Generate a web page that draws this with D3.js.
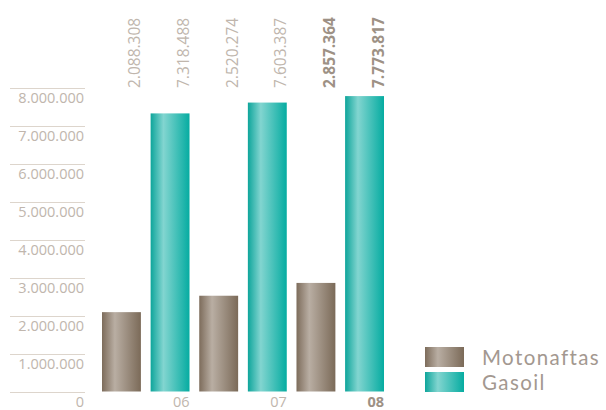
<!DOCTYPE html>
<html><head><meta charset="utf-8">
<script src="https://cdn.jsdelivr.net/npm/d3@7/dist/d3.min.js"></script>
<style>body{margin:0;background:#fff}svg{display:block}text{font-family:"Open Sans",sans-serif}</style>
</head><body>
<svg id="c" width="606" height="410"></svg>
<script>
const years = ["06", "07", "08"];
const seriesNames = ["Motonaftas", "Gasoil"];
const motonaftas = [2088308, 2520274, 2857364];
const gasoil = [7318488, 7603387, 7773817];
const tickValues = [0, 1000000, 2000000, 3000000, 4000000, 5000000, 6000000, 7000000, 8000000];

const svg = d3.select("#c");
const fmt = v => d3.format(",")(v).replace(/,/g, ".");

const y = d3.scaleLinear().domain([0, 8000000]).range([391.5, 87.5]);
const xBand = d3.scaleBand().domain(d3.range(6)).range([102, 384]).paddingInner(0.2).paddingOuter(0);

const defs = svg.append("defs");
function grad(id, stops) {
  const g = defs.append("linearGradient").attr("id", id).attr("x1", "0%").attr("x2", "100%").attr("y1", "0%").attr("y2", "0%");
  stops.forEach(s => g.append("stop").attr("offset", s[0]).attr("stop-color", s[1]));
}
grad("gBrown", [[0, "#7d6c5b"], [0.33, "#b9aea3"], [1, "#7b6a58"]]);
grad("gTeal", [[0, "#0ea59b"], [0.33, "#82d5d0"], [1, "#06aca1"]]);
const fills = ["url(#gBrown)", "url(#gTeal)"];

// gridlines and tick labels
const grid = svg.append("g");
grid.selectAll("line").data(tickValues).join("line")
  .attr("x1", 10).attr("x2", 85)
  .attr("y1", d => Math.round(y(d)) + 0.5).attr("y2", d => Math.round(y(d)) + 0.5)
  .attr("stroke", "#ddd5cc").attr("stroke-width", 1);
grid.selectAll("text").data(tickValues).join("text")
  .attr("x", 84).attr("y", d => y(d) + 15.5)
  .attr("text-anchor", "end").attr("font-size", 14.5).attr("fill", "#c0b6ad")
  .text(d => fmt(d));

// bars
const data = [];
years.forEach((yr, i) => {
  data.push({ yr, s: 0, v: motonaftas[i], idx: i * 2 });
  data.push({ yr, s: 1, v: gasoil[i], idx: i * 2 + 1 });
});
svg.append("g").selectAll("rect").data(data).join("rect")
  .attr("x", d => xBand(d.idx)).attr("width", xBand.bandwidth())
  .attr("y", d => y(d.v)).attr("height", d => y(0) - y(d.v))
  .attr("fill", d => fills[d.s]);

// value labels
svg.append("g").selectAll("text").data(data).join("text")
  .attr("transform", d => `translate(${xBand(d.idx) + xBand.bandwidth() - 0.5},88) rotate(-90)`)
  .attr("font-size", 15.5)
  .attr("font-weight", d => d.yr === "08" ? "bold" : "normal")
  .attr("fill", d => d.yr === "08" ? "#9d9185" : "#c0b6ad")
  .text(d => fmt(d.v));

// x labels
svg.append("g").selectAll("text").data(years).join("text")
  .attr("x", (d, i) => xBand(i * 2 + 1) + xBand.bandwidth())
  .attr("y", 407)
  .attr("text-anchor", "end").attr("font-size", 14.5)
  .attr("font-weight", d => d === "08" ? "bold" : "normal")
  .attr("fill", d => d === "08" ? "#9d9185" : "#c0b6ad")
  .text(d => d);

// legend
const lg = svg.append("g");
seriesNames.forEach((n, i) => {
  lg.append("rect").attr("x", 425).attr("y", 347 + i * 25).attr("width", 39).attr("height", 20).attr("fill", fills[i]);
  lg.append("text").attr("x", 482).attr("y", 365 + i * 25)
    .style("font-family", "Lato, sans-serif").attr("font-size", 20.5).attr("letter-spacing", 1.4)
    .attr("fill", "#a39890").text(n);
});
</script>
</body></html>
